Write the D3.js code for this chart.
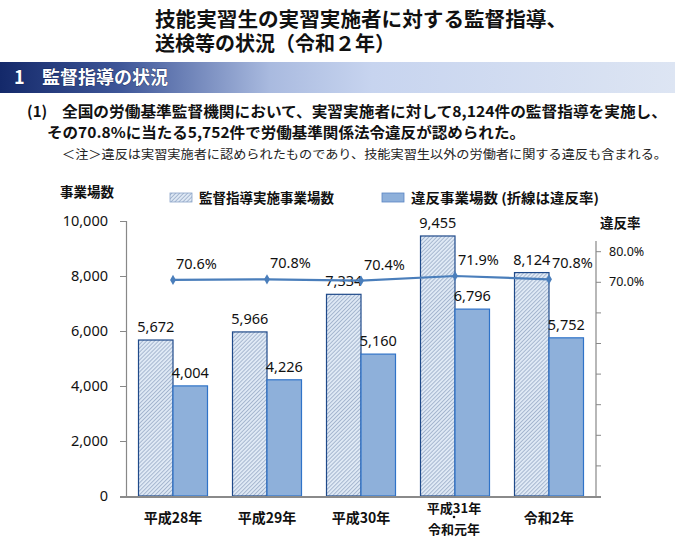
<!DOCTYPE html>
<html lang="ja">
<head>
    <meta charset="UTF-8">
    <style>
        body {
            margin: 0;
            background: #fff;
            font-family: "Noto Sans CJK JP", "Noto Sans", sans-serif;
        }
        .axis text {
            font-family: "Noto Sans", "Noto Sans CJK JP", sans-serif;
            fill: #111;
        }
        .jp {
            font-family: "Noto Sans CJK JP", sans-serif;
        }
    </style>
    <script src="https://d3js.org/d3.v7.min.js"></script>
</head>
<body>
    <svg width="675" height="540"></svg>
</body>

<script>
    var categories = ["平成28年", "平成29年", "平成30年", "平成31年・令和元年", "令和2年"];
    var inspected = [5672, 5966, 7334, 9455, 8124];
    var violations = [4004, 4226, 5160, 6796, 5752];
    var rate = [70.6, 70.8, 70.4, 71.9, 70.8];
    var leftTicks = [0, 2000, 4000, 6000, 8000, 10000];
    var rightTicks = [0, 10, 20, 30, 40, 50, 60, 70, 80];
    var rightLabels = { 70: "70.0%", 80: "80.0%" };

    var svg = d3.select("svg");
    var fmt = d3.format(",");

    var defs = svg.append("defs");
    var grad = defs.append("linearGradient").attr("id", "banner")
            .attr("x1", "0").attr("x2", "1").attr("y1", "0").attr("y2", "0");
    grad.append("stop").attr("offset", "0").attr("stop-color", "#14296a");
    grad.append("stop").attr("offset", "0.18").attr("stop-color", "#3f5799");
    grad.append("stop").attr("offset", "0.40").attr("stop-color", "#a9badf");
    grad.append("stop").attr("offset", "0.55").attr("stop-color", "#c7d4ef");
    grad.append("stop").attr("offset", "1").attr("stop-color", "#dde5f3");

    var hatch = defs.append("pattern").attr("id", "hatch")
            .attr("patternUnits", "userSpaceOnUse")
            .attr("width", 2.8).attr("height", 2.8)
            .attr("patternTransform", "rotate(45)");
    hatch.append("rect").attr("width", 2.8).attr("height", 2.8).attr("fill", "#dfe9f5");
    hatch.append("line").attr("x1", 0).attr("y1", 0).attr("x2", 0).attr("y2", 2.8)
            .attr("stroke", "#7b91b3").attr("stroke-width", 1.1);

    // header
    svg.append("text").attr("x", 155).attr("y", 27)
        .attr("font-size", 20).attr("font-weight", "bold").attr("fill", "#111")
        .attr("textLength", 412).attr("lengthAdjust", "spacingAndGlyphs")
        .text("技能実習生の実習実施者に対する監督指導、");
    svg.append("text").attr("x", 155).attr("y", 51)
        .attr("font-size", 20).attr("font-weight", "bold").attr("fill", "#111")
        .attr("textLength", 240).attr("lengthAdjust", "spacingAndGlyphs")
        .text("送検等の状況（令和２年）");

    svg.append("rect").attr("x", 0).attr("y", 62).attr("width", 675).attr("height", 31)
        .attr("fill", "url(#banner)");
    svg.append("text").attr("x", 14).attr("y", 84)
        .attr("font-size", 18).attr("font-weight", "bold").attr("fill", "#fff")
        .attr("stroke", "#0b1a48").attr("stroke-width", 0.6).attr("paint-order", "stroke")
        .text("1");
    svg.append("text").attr("x", 42).attr("y", 84)
        .attr("font-size", 18).attr("font-weight", "bold").attr("fill", "#fff")
        .attr("stroke", "#0b1a48").attr("stroke-width", 0.6).attr("paint-order", "stroke")
        .text("監督指導の状況");

    svg.append("text").attr("x", 27).attr("y", 117)
        .attr("font-size", 15).attr("font-weight", "bold").attr("fill", "#111")
        .text("(1)");
    svg.append("text").attr("x", 62).attr("y", 117)
        .attr("font-size", 15).attr("font-weight", "bold").attr("fill", "#111")
        .attr("textLength", 605).attr("lengthAdjust", "spacingAndGlyphs")
        .text("全国の労働基準監督機関において、実習実施者に対して8,124件の監督指導を実施し、");
    svg.append("text").attr("x", 47).attr("y", 138)
        .attr("font-size", 15).attr("font-weight", "bold").attr("fill", "#111")
        .attr("textLength", 478).attr("lengthAdjust", "spacingAndGlyphs")
        .text("その70.8%に当たる5,752件で労働基準関係法令違反が認められた。");
    svg.append("text").attr("x", 62).attr("y", 159)
        .attr("font-size", 12).attr("fill", "#222")
        .attr("textLength", 605).attr("lengthAdjust", "spacingAndGlyphs")
        .text("＜注＞違反は実習実施者に認められたものであり、技能実習生以外の労働者に関する違反も含まれる。");

    // chart
    var plotL = 126, plotR = 596, plotT = 221, plotB = 496;
    var x = d3.scaleBand().domain(categories).range([plotL, plotR]).padding(0);
    var y = d3.scaleLinear().domain([0, 10000]).range([plotB, plotT]);
    var yr = d3.scaleLinear().domain([0, 100]).range([plotB, plotB - 306]);
    var bw = 34.5;

    svg.append("text").attr("x", 60).attr("y", 197)
        .attr("font-size", 13.5).attr("font-weight", "bold").attr("fill", "#111")
        .text("事業場数");
    svg.append("text").attr("x", 600).attr("y", 228)
        .attr("font-size", 13.5).attr("font-weight", "bold").attr("fill", "#111")
        .text("違反率");

    // legend
    svg.append("rect").attr("x", 170).attr("y", 193).attr("width", 22).attr("height", 9)
        .attr("fill", "url(#hatch)").attr("stroke", "#8aa4c8").attr("stroke-width", 0.8);
    svg.append("text").attr("x", 199).attr("y", 203)
        .attr("font-size", 13.5).attr("font-weight", "bold").attr("fill", "#111")
        .text("監督指導実施事業場数");
    svg.append("rect").attr("x", 382).attr("y", 193).attr("width", 22).attr("height", 9)
        .attr("fill", "#8eb0da").attr("stroke", "#5a86c2").attr("stroke-width", 0.8);
    svg.append("text").attr("x", 411).attr("y", 203)
        .attr("font-size", 13.5).attr("font-weight", "bold").attr("fill", "#111")
        .attr("textLength", 188).attr("lengthAdjust", "spacingAndGlyphs")
        .text("違反事業場数 (折線は違反率)");

    // left axis
    var ya = svg.append("g").attr("class", "axis")
        .attr("transform", "translate(" + plotL + ",0)")
        .call(d3.axisLeft(y).tickValues(leftTicks).tickSize(6).tickPadding(12).tickFormat(fmt));
    ya.selectAll("text").attr("font-size", 14.5);
    ya.select(".domain").attr("stroke", "#888").attr("stroke-width", 1.2);
    ya.selectAll(".tick line").attr("stroke", "#888");

    // right axis
    var ra = svg.append("g").attr("class", "axis")
        .attr("transform", "translate(" + plotR + ",0)")
        .call(d3.axisRight(yr).tickValues(rightTicks).tickSize(5).tickPadding(8)
            .tickFormat(function(d) { return rightLabels[d] || ""; }));
    ra.selectAll("text").attr("font-size", 12.5);
    ra.select(".domain").attr("d", "M0," + (plotB - 255) + "V" + plotB)
        .attr("stroke", "#888").attr("stroke-width", 1.2);
    ra.selectAll(".tick line").attr("stroke", "#888");

    // bars
    var g = svg.append("g");
    categories.forEach(function(c, i) {
        var cx = x(c) + x.bandwidth() / 2;
        g.append("rect").attr("x", cx - bw).attr("y", y(inspected[i]))
            .attr("width", bw).attr("height", plotB - y(inspected[i]))
            .attr("fill", "url(#hatch)").attr("stroke", "#1f4a8a").attr("stroke-width", 1.2);
        g.append("rect").attr("x", cx).attr("y", y(violations[i]))
            .attr("width", bw).attr("height", plotB - y(violations[i]))
            .attr("fill", "#8eb0da").attr("stroke", "#2f73c8").attr("stroke-width", 1.2);
        g.append("text").attr("x", cx - bw / 2).attr("y", y(inspected[i]) - 8)
            .attr("text-anchor", "middle").attr("font-size", 14.5)
            .attr("font-family", "Noto Sans, sans-serif").attr("fill", "#111")
            .text(fmt(inspected[i]));
        g.append("text").attr("x", cx + bw / 2).attr("y", y(violations[i]) - 8)
            .attr("text-anchor", "middle").attr("font-size", 14.5)
            .attr("font-family", "Noto Sans, sans-serif").attr("fill", "#111")
            .text(fmt(violations[i]));
    });

    // bottom axis line
    svg.append("line").attr("x1", 120).attr("x2", 601).attr("y1", plotB + 1).attr("y2", plotB + 1)
        .attr("stroke", "#8a8a8a").attr("stroke-width", 2);

    // category labels
    categories.forEach(function(c, i) {
        var cx = x(c) + x.bandwidth() / 2;
        if (c.indexOf("・") >= 0) {
            var parts = c.split("・");
            svg.append("text").attr("class", "jp").attr("x", cx - 1).attr("y", 513)
                .attr("text-anchor", "middle").attr("font-size", 13).attr("font-weight", "bold")
                .attr("fill", "#111").text(parts[0]);
            svg.append("circle").attr("cx", cx - 1).attr("cy", 517).attr("r", 1.3).attr("fill", "#111");
            svg.append("text").attr("class", "jp").attr("x", cx - 1).attr("y", 534)
                .attr("text-anchor", "middle").attr("font-size", 13).attr("font-weight", "bold")
                .attr("fill", "#111").text(parts[1]);
        } else {
            svg.append("text").attr("class", "jp").attr("x", cx).attr("y", 523)
                .attr("text-anchor", "middle").attr("font-size", 14).attr("font-weight", "bold")
                .attr("fill", "#111").text(c);
        }
    });

    // rate line
    var pts = categories.map(function(c, i) {
        return [x(c) + x.bandwidth() / 2, yr(rate[i])];
    });
    svg.append("path").attr("d", d3.line()(pts))
        .attr("fill", "none").attr("stroke", "#4a7ebb").attr("stroke-width", 2.2);
    svg.append("g").selectAll("path").data(pts).enter().append("path")
        .attr("d", d3.symbol().type(d3.symbolDiamond).size(30))
        .attr("transform", function(d) { return "translate(" + d[0] + "," + d[1] + ")"; })
        .attr("fill", "#4a7ebb");
    svg.append("g").selectAll("text").data(pts).enter().append("text")
        .attr("x", function(d) { return d[0] + 3; })
        .attr("y", function(d) { return d[1] - 11; })
        .attr("font-size", 14.5).attr("font-family", "Noto Sans, sans-serif").attr("fill", "#111")
        .text(function(d, i) { return rate[i].toFixed(1) + "%"; });
</script>
</html>
